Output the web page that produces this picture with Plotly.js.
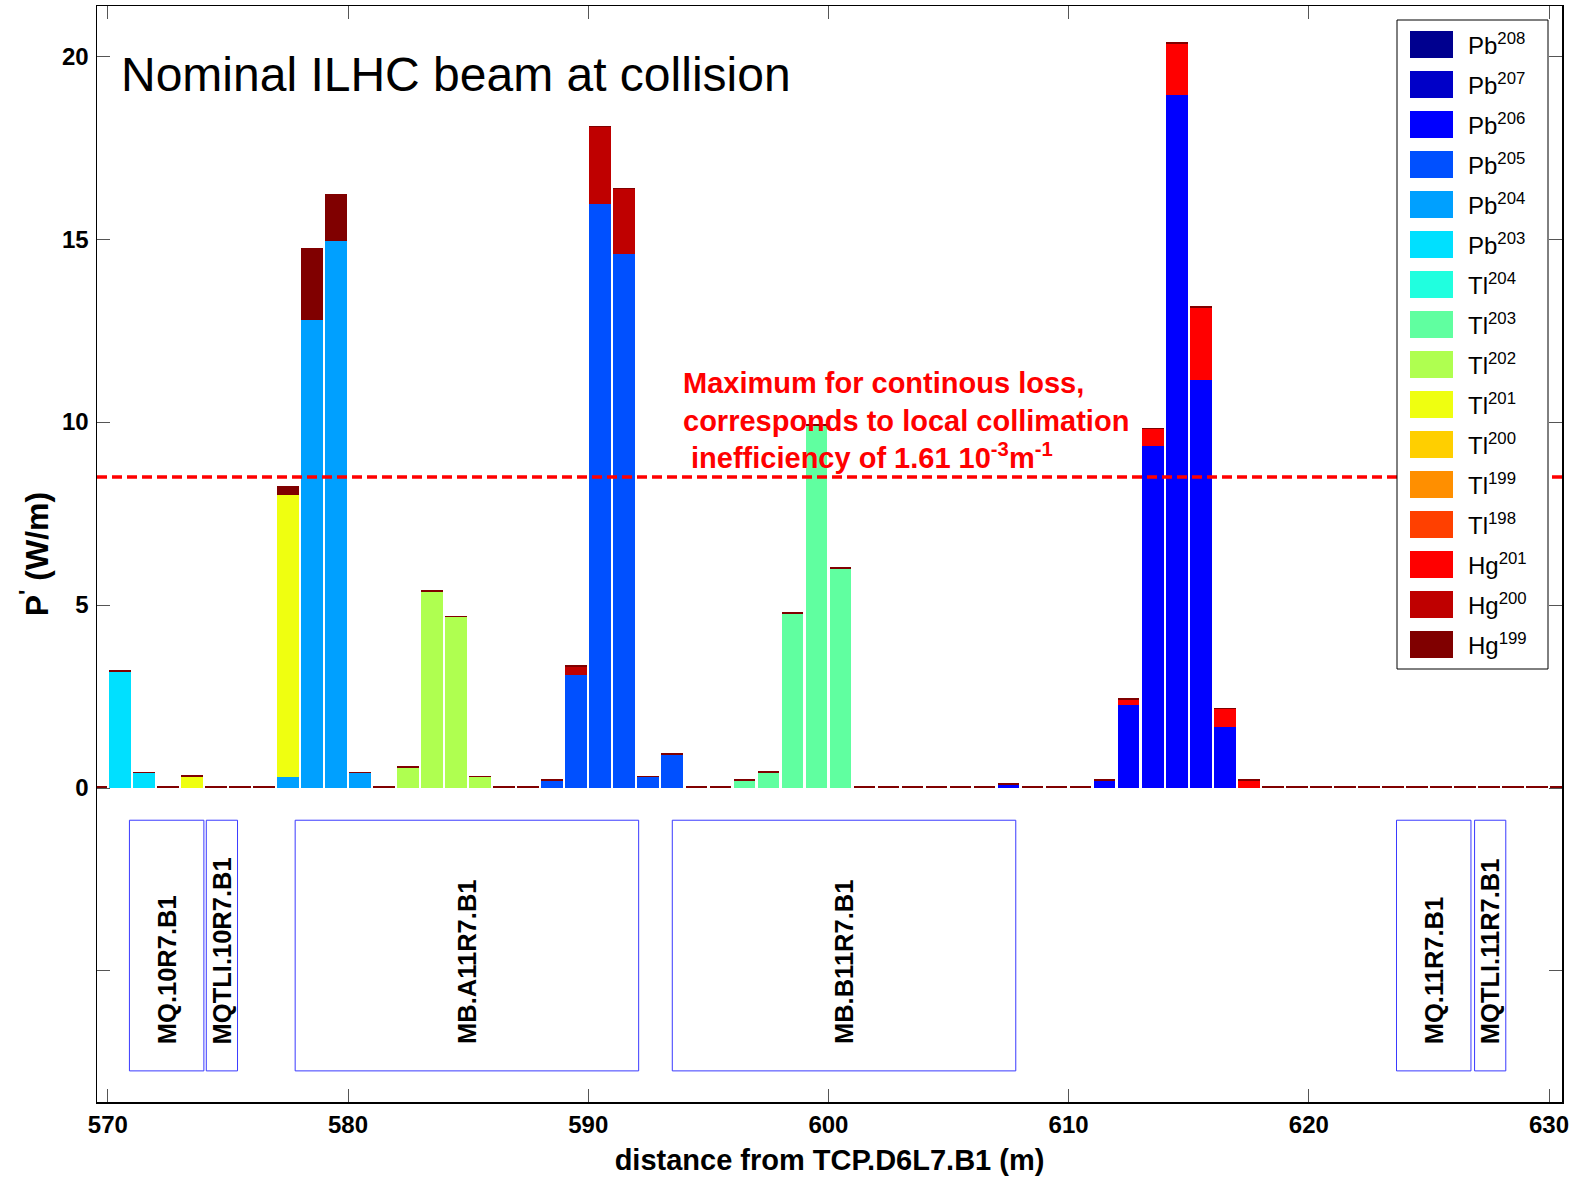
<!DOCTYPE html>
<html>
<head>
<meta charset="utf-8">
<script src="https://cdn.plot.ly/plotly-3.0.1.min.js"></script>
<style>html,body{margin:0;padding:0;background:#fff}#chart{width:1584px;height:1180px}</style>
</head>
<body>
<div id="chart"></div>
<script>
// ---------------- DATA ----------------
const positions = [569.5,570.5,571.5,572.5,573.5,574.5,575.5,576.5,577.5,578.5,
  579.5,580.5,581.5,582.5,583.5,584.5,585.5,586.5,587.5,588.5,
  589.5,590.5,591.5,592.5,593.5,594.5,595.5,596.5,597.5,598.5,
  599.5,600.5,601.5,602.5,603.5,604.5,605.5,606.5,607.5,608.5,
  609.5,610.5,611.5,612.5,613.5,614.5,615.5,616.5,617.5,618.5,
  619.5,620.5,621.5,622.5,623.5,624.5,625.5,626.5,627.5,628.5,
  629.5,630.5];

const elements    = ['Pb','Pb','Pb','Pb','Pb','Pb','Tl','Tl','Tl','Tl','Tl','Tl','Tl','Hg','Hg','Hg'];
const massNumbers = ['208','207','206','205','204','203','204','203','202','201','200','199','198','201','200','199'];
const seriesColors = ['#00008F','#0000C8','#0000FF','#0050FF','#00A0FF','#00E0FF','#20FFDF','#60FFA0',
  '#AFFF50','#EFFF10','#FFCF00','#FF8F00','#FF4000','#FF0000','#BF0000','#800000'];

const Pb208 = [0,0,0,0,0,0,0,0,0,0, 0,0,0,0,0,0,0,0,0,0, 0,0,0,0,0,0,0,0,0,0, 0,0,0,0,0,0,0,0,0,0, 0,0,0,0,0,0,0,0,0,0, 0,0,0,0,0,0,0,0,0,0, 0,0];
const Pb207 = [0,0,0,0,0,0,0,0,0,0, 0,0,0,0,0,0,0,0,0,0, 0,0,0,0,0,0,0,0,0,0, 0,0,0,0,0,0,0,0,0,0, 0,0,0,0,0,0,0,0,0,0, 0,0,0,0,0,0,0,0,0,0, 0,0];
const Pb206 = [0,0,0,0,0,0,0,0,0,0, 0,0,0,0,0,0,0,0,0,0, 0,0,0,0,0,0,0,0,0,0, 0,0,0,0,0,0,0,0,0.09,0, 0,0,0.19,2.28,9.36,18.95,11.15,1.67,0,0, 0,0,0,0,0,0,0,0,0,0, 0,0];
const Pb205 = [0,0,0,0,0,0,0,0,0,0, 0,0,0,0,0,0,0,0,0,0.19, 3.10,15.95,14.60,0.29,0.90,0,0,0,0,0, 0,0,0,0,0,0,0,0,0,0, 0,0,0,0,0,0,0,0,0,0, 0,0,0,0,0,0,0,0,0,0, 0,0];
const Pb204 = [0,0,0,0,0,0,0,0,0.30,12.80, 14.95,0.40,0,0,0,0,0,0,0,0, 0,0,0,0,0,0,0,0,0,0, 0,0,0,0,0,0,0,0,0,0, 0,0,0,0,0,0,0,0,0,0, 0,0,0,0,0,0,0,0,0,0, 0,0];
const Pb203 = [0,3.17,0.40,0,0,0,0,0,0,0, 0,0,0,0,0,0,0,0,0,0, 0,0,0,0,0,0,0,0,0,0, 0,0,0,0,0,0,0,0,0,0, 0,0,0,0,0,0,0,0,0,0, 0,0,0,0,0,0,0,0,0,0, 0,0];
const Tl204 = [0,0,0,0,0,0,0,0,0,0, 0,0,0,0,0,0,0,0,0,0, 0,0,0,0,0,0,0,0,0,0, 0,0,0,0,0,0,0,0,0,0, 0,0,0,0,0,0,0,0,0,0, 0,0,0,0,0,0,0,0,0,0, 0,0];
const Tl203 = [0,0,0,0,0,0,0,0,0,0, 0,0,0,0,0,0,0,0,0,0, 0,0,0,0,0,0,0,0.20,0.42,4.76, 9.90,5.98,0,0,0,0,0,0,0,0, 0,0,0,0,0,0,0,0,0,0, 0,0,0,0,0,0,0,0,0,0, 0,0];
const Tl202 = [0,0,0,0,0,0,0,0,0,0, 0,0,0,0.56,5.36,4.66,0.29,0,0,0, 0,0,0,0,0,0,0,0,0,0, 0,0,0,0,0,0,0,0,0,0, 0,0,0,0,0,0,0,0,0,0, 0,0,0,0,0,0,0,0,0,0, 0,0];
const Tl201 = [0,0,0,0,0.30,0,0,0,7.70,0, 0,0,0,0,0,0,0,0,0,0, 0,0,0,0,0,0,0,0,0,0, 0,0,0,0,0,0,0,0,0,0, 0,0,0,0,0,0,0,0,0,0, 0,0,0,0,0,0,0,0,0,0, 0,0];
const Tl200 = [0,0,0,0,0,0,0,0,0,0, 0,0,0,0,0,0,0,0,0,0, 0,0,0,0,0,0,0,0,0,0, 0,0,0,0,0,0,0,0,0,0, 0,0,0,0,0,0,0,0,0,0, 0,0,0,0,0,0,0,0,0,0, 0,0];
const Tl199 = [0,0,0,0,0,0,0,0,0,0, 0,0,0,0,0,0,0,0,0,0, 0,0,0,0,0,0,0,0,0,0, 0,0,0,0,0,0,0,0,0,0, 0,0,0,0,0,0,0,0,0,0, 0,0,0,0,0,0,0,0,0,0, 0,0];
const Tl198 = [0,0,0,0,0,0,0,0,0,0, 0,0,0,0,0,0,0,0,0,0, 0,0,0,0,0,0,0,0,0,0, 0,0,0,0,0,0,0,0,0,0, 0,0,0,0,0,0,0,0,0,0, 0,0,0,0,0,0,0,0,0,0, 0,0];
const Hg201 = [0,0,0,0,0,0,0,0,0,0, 0,0,0,0,0,0,0,0,0,0, 0,0,0,0,0,0,0,0,0,0, 0,0,0,0,0,0,0,0,0,0, 0,0,0,0.13,0.44,1.38,1.98,0.48,0.20,0, 0,0,0,0,0,0,0,0,0,0, 0,0];
const Hg200 = [0,0,0,0,0,0,0,0,0,0, 0,0,0,0,0,0,0,0,0,0, 0.20,2.10,1.76,0,0,0,0,0,0,0, 0,0,0,0,0,0,0,0,0,0, 0,0,0,0,0,0,0,0,0,0, 0,0,0,0,0,0,0,0,0,0, 0,0];
const Hg199 = [0.05,0.05,0.05,0.05,0.05,0.05,0.05,0.05,0.25,1.96, 1.27,0.05,0.05,0.05,0.05,0.05,0.05,0.05,0.05,0.05,
  0.05,0.05,0.05,0.05,0.05,0.05,0.05,0.05,0.05,0.05, 0.05,0.05,0.05,0.05,0.05,0.05,0.05,0.05,0.05,0.05,
  0.05,0.05,0.05,0.05,0.05,0.05,0.05,0.05,0.05,0.05, 0.05,0.05,0.05,0.05,0.05,0.05,0.05,0.05,0.05,0.05, 0.05,0.05];

const seriesValues = [Pb208,Pb207,Pb206,Pb205,Pb204,Pb203,Tl204,Tl203,Tl202,Tl201,Tl200,Tl199,Tl198,Hg201,Hg200,Hg199];

const magnetNames = ['MQ.10R7.B1','MQTLI.10R7.B1','MB.A11R7.B1','MB.B11R7.B1','MQ.11R7.B1','MQTLI.11R7.B1'];
const magnetStart = [570.9, 574.1, 577.8, 593.5, 623.65, 626.9];
const magnetEnd   = [574.0, 575.4, 592.1, 607.8, 626.75, 628.2];

const lossLimit = 8.5;

const xTickVals = [570,580,590,600,610,620,630];
const xTickText = ['570','580','590','600','610','620','630'];
const yTickVals = [-5,0,5,10,15,20];
const yTickText = ['','0','5','10','15','20'];

// ---------------- LAYOUT HELPERS ----------------
const FONT = 'Liberation Sans, Arial, Helvetica, sans-serif';
const M = {l:97, r:22, t:6, b:78};
const PW = 1584 - M.l - M.r, PH = 1180 - M.t - M.b;
const px = x => (x - M.l) / PW;
const py = y => (1180 - M.b - y) / PH;

const traces = seriesValues.map((vals, i) => ({
  type: 'bar',
  x: positions,
  y: vals,
  width: 0.9,
  name: elements[i] + massNumbers[i],
  marker: {color: seriesColors[i], line: {width: 0}},
  showlegend: false,
  hoverinfo: 'x+y+name'
}));

const shapes = [];
const annotations = [];

// continuous loss limit
shapes.push({type:'line', xref:'paper', x0:0, x1:1, yref:'y', y0:lossLimit, y1:lossLimit,
  line:{color:'#FF0000', width:3.5, dash:'10px,5px'}});

// magnets
magnetNames.forEach((n, i) => {
  shapes.push({type:'rect', xref:'x', yref:'y', x0:magnetStart[i], x1:magnetEnd[i], y0:-0.88, y1:-7.73,
    line:{color:'#3a3aff', width:1}, fillcolor:'rgba(0,0,0,0)'});
  annotations.push({xref:'x', yref:'y', x:(magnetStart[i]+magnetEnd[i])/2, y:-7.05, text:n, showarrow:false,
    textangle:-90, xanchor:'center', yanchor:'bottom',
    font:{family:FONT, size:25.5, color:'#000', weight:'bold'}});
});

// red note
annotations.push({xref:'x', yref:'y', x:593.85, y:11.55, xanchor:'left', yanchor:'top', align:'left', showarrow:false,
  text:'Maximum for continous loss,<br>corresponds to local collimation<br>\u00A0inefficiency of 1.61 10<sup>-3</sup>m<sup>-1</sup>',
  font:{family:FONT, size:29, color:'#FF0000', weight:'bold'}});

// legend (drawn manually to match the large swatches)
shapes.push({type:'rect', xref:'paper', yref:'paper', x0:px(1397), x1:px(1548), y0:py(669), y1:py(20),
  line:{color:'#000', width:1}, fillcolor:'#fff', layer:'above'});
elements.forEach((el, i) => {
  const cy = 44.4 + 40 * i;
  shapes.push({type:'rect', xref:'paper', yref:'paper', x0:px(1410), x1:px(1453), y0:py(cy+13.5), y1:py(cy-13.5),
    line:{width:0}, fillcolor:seriesColors[i], layer:'above'});
  annotations.push({xref:'paper', yref:'paper', x:px(1466), y:py(cy+17), xanchor:'left', yanchor:'bottom',
    showarrow:false, text: el + '<sup>' + massNumbers[i] + '</sup>',
    font:{family:FONT, size:24, color:'#000'}});
});

const axisCommon = {
  showgrid:false, zeroline:false, showline:true, linecolor:'#000', linewidth:1.5, mirror:'ticks',
  ticks:'inside', ticklen:13, tickwidth:1, tickcolor:'#555',
  tickfont:{family:FONT, size:24, color:'#000', weight:'bold'}
};

const layout = {
  width:1584, height:1180,
  margin:M,
  paper_bgcolor:'#fff', plot_bgcolor:'#fff',
  barmode:'stack',
  showlegend:false,
  title:{text:'Nominal ILHC beam at collision', font:{family:FONT, size:48, color:'#000'},
    xref:'paper', yref:'paper', x:px(121), xanchor:'left', y:py(74), yanchor:'middle'},
  xaxis: Object.assign({}, axisCommon, {
    range:[569.55, 630.54], tickmode:'array', tickvals:xTickVals, ticktext:xTickText,
    ticklabelstandoff:1,
    title:{text:'distance from TCP.D6L7.B1 (m)', font:{family:FONT, size:29, color:'#000', weight:'bold'}, standoff:12}
  }),
  yaxis: Object.assign({}, axisCommon, {
    range:[-8.58, 21.37], tickmode:'array', tickvals:yTickVals, ticktext:yTickText,
    ticklabelstandoff:2,
    title:{text:'P<sup>\'</sup> (W/m)', font:{family:FONT, size:32, color:'#000', weight:'bold'}, standoff:4}
  }),
  shapes: shapes,
  annotations: annotations
};

Plotly.newPlot('chart', traces, layout, {displayModeBar:false, staticPlot:true});
</script>
</body>
</html>
